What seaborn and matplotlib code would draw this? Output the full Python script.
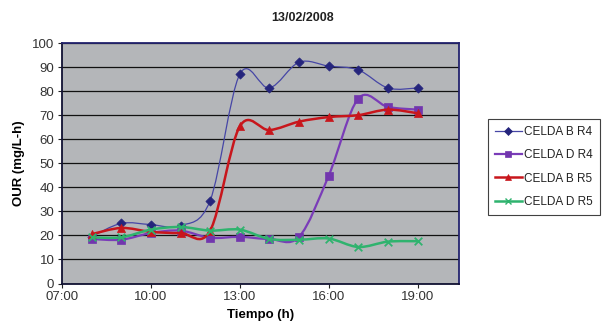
import numpy as np
import pandas as pd
import matplotlib
matplotlib.use("Agg")
import matplotlib.pyplot as plt
import seaborn as sns
from matplotlib.path import Path
from matplotlib.patches import PathPatch
from matplotlib.lines import Line2D

# sampling hours (decimal hours of the day)
hours = [8, 9, 10, 11, 12, 13, 14, 15, 16, 17, 18, 19]

celda_b_r4 = [19.5, 25, 24.5, 24, 34.5, 87, 81.3, 92, 90.4, 88.8, 81.3, 81.3]
celda_d_r4 = [18.5, 18.2, 21, 22, 19, 19.4, 18.5, 19.4, 44.8, 76.9, 73.4, 72.3]
celda_b_r5 = [20.5, 23.1, 21.5, 21, 22, 65.3, 63.8, 67.3, 69.2, 70, 72.3, 70.8]
celda_d_r5 = [19.2, 19.2, 22.4, 23.5, 22, 22.4, 18.5, 18.2, 18.7, 15.2, 17.4, 17.6]

series_names = ["CELDA B R4", "CELDA D R4", "CELDA B R5", "CELDA D R5"]
x_ticks = [7, 10, 13, 16, 19]
x_tick_labels = ["07:00", "10:00", "13:00", "16:00", "19:00"]

df = pd.DataFrame({
    "hora": hours * 4,
    "our": celda_b_r4 + celda_d_r4 + celda_b_r5 + celda_d_r5,
    "serie": np.repeat(series_names, len(hours)),
})

styles = {
    "CELDA B R4": dict(line="#4646a6", mark="#25257c", marker="D", s=22, lw=0.9),
    "CELDA D R4": dict(line="#7a3cb8", mark="#7236ae", marker="s", s=26, lw=1.6),
    "CELDA B R5": dict(line="#c8161c", mark="#c8161c", marker="^", s=34, lw=1.8),
    "CELDA D R5": dict(line="#2fb36e", mark="#2fb36e", marker="x", s=30, lw=1.8),
}

plt.rcParams["font.family"] = ["Liberation Sans", "DejaVu Sans"]

fig = plt.figure(figsize=(6.02, 3.27), dpi=100)
ax = fig.add_axes([0.103, 0.133, 0.6595, 0.7355])
ax.set_facecolor("#b4b6b9")


def smooth_path(xs, ys):
    # Excel-like smoothed line: cubic bezier segments (catmull-rom controls)
    pts = np.column_stack([xs, ys]).astype(float)
    n = len(pts)
    verts = [pts[0]]
    codes = [Path.MOVETO]
    for i in range(n - 1):
        p0 = pts[max(i - 1, 0)]
        p1 = pts[i]
        p2 = pts[i + 1]
        p3 = pts[min(i + 2, n - 1)]
        c1 = p1 + (p2 - p0) / 6.0
        c2 = p2 - (p3 - p1) / 6.0
        verts += [c1, c2, p2]
        codes += [Path.CURVE4] * 3
    return Path(verts, codes)


for k, name in enumerate(series_names):
    st = styles[name]
    sub = df[df["serie"] == name]
    patch = PathPatch(smooth_path(sub["hora"], sub["our"]), facecolor="none",
                      edgecolor=st["line"], lw=st["lw"], zorder=3 + k)
    ax.add_patch(patch)
    if st["marker"] == "x":
        sns.scatterplot(data=sub, x="hora", y="our", ax=ax, marker="x",
                        color=st["mark"], s=st["s"], linewidth=1.3,
                        zorder=3.5 + k, legend=False)
    else:
        sns.scatterplot(data=sub, x="hora", y="our", ax=ax, marker=st["marker"],
                        color=st["mark"], s=st["s"], edgecolor=st["mark"],
                        linewidth=0.5, zorder=3.5 + k, legend=False)

ax.set_xlim(7, 20.4)
ax.set_ylim(0, 100)
ax.set_yticks(range(0, 101, 10))
ax.set_xticks(x_ticks)
ax.set_xticklabels(x_tick_labels)
ax.tick_params(labelsize=9.5, labelcolor="#333333", length=3, width=0.8,
               color="#222222", pad=2.5)
ax.yaxis.grid(True, color="#111111", lw=0.9)
ax.set_axisbelow(True)
for sp in ax.spines.values():
    sp.set_color("#23236e")
    sp.set_linewidth(1.3)
ax.spines["left"].set_color("#111133")
ax.spines["bottom"].set_color("#111133")

ax.set_xlabel("Tiempo (h)", fontsize=9.5, fontweight="bold", labelpad=4)
ax.set_ylabel("OUR (mg/L-h)", fontsize=9.5, fontweight="bold", labelpad=5)
fig.text(0.502, 0.945, "13/02/2008", ha="center", va="center",
         fontsize=9, fontweight="bold", color="#222222")

handles = []
for name in series_names:
    st = styles[name]
    handles.append(Line2D([], [], color=st["line"], lw=st["lw"],
                          marker=st["marker"], markersize=4,
                          markerfacecolor=st["mark"], markeredgecolor=st["mark"],
                          markeredgewidth=1.0 if st["marker"] == "x" else 0.5))
leg = fig.legend(handles, series_names, loc="upper left",
                 bbox_to_anchor=(0.81, 0.636), fontsize=8.5, frameon=True,
                 fancybox=False, edgecolor="#111111", handlelength=2.3,
                 handletextpad=0.2, labelspacing=0.95, borderpad=0.6,
                 borderaxespad=0)
leg.get_frame().set_linewidth(0.8)
for t in leg.get_texts():
    t.set_color("#222222")

fig.savefig("out.png", dpi=100)
